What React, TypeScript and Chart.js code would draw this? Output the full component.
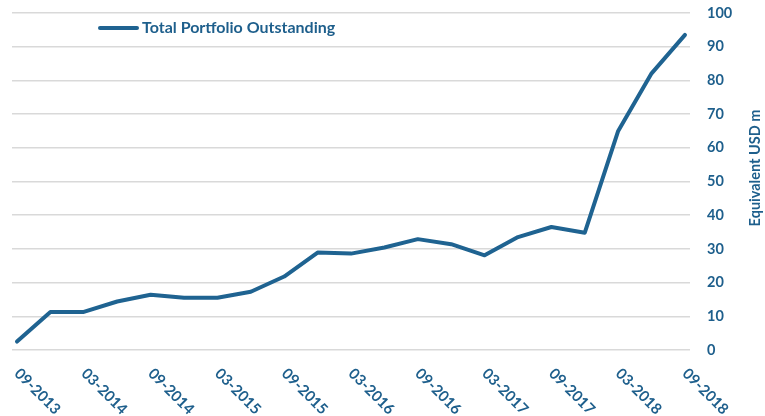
import React, { useEffect, useRef } from "react";
import { Chart, registerables } from "chart.js";

Chart.register(...registerables);

const categories = [
  "09-2013", "12-2013", "03-2014", "06-2014", "09-2014", "12-2014", "03-2015",
  "06-2015", "09-2015", "12-2015", "03-2016", "06-2016", "09-2016", "12-2016",
  "03-2017", "06-2017", "09-2017", "12-2017", "03-2018", "06-2018", "09-2018",
];
const outstanding = [
  2.5, 11.3, 11.3, 14.4, 16.4, 15.5, 15.5, 17.3, 21.8, 28.9, 28.6, 30.4,
  32.9, 31.4, 28.1, 33.5, 36.5, 34.8, 65.0, 82.1, 93.5,
];
const yTicks = [0, 10, 20, 30, 40, 50, 60, 70, 80, 90, 100];
const seriesName = "Total Portfolio Outstanding";
const yTitle = "Equivalent USD m";

const LINE = "#1f6391";
const TEXT = "#1e5f8c";
const FONT = "Lato, 'Open Sans', sans-serif";

export default function App() {
  const ref = useRef<HTMLCanvasElement | null>(null);

  useEffect(() => {
    document.body.style.margin = "0";
    const canvas = ref.current!;
    const textPlugin = {
      id: "customText",
      afterDraw(chart: any) {
        const ctx = chart.ctx as CanvasRenderingContext2D;
        const xs = chart.scales.x;
        const area = chart.chartArea;
        ctx.save();
        ctx.fillStyle = TEXT;
        ctx.font = `bold 15px ${FONT}`;
        // x labels, rotated 45deg down-right
        categories.forEach((c, i) => {
          if (i % 2 !== 0) return;
          const px = xs.getPixelForValue(i);
          ctx.save();
          ctx.translate(px, area.bottom + 21);
          ctx.rotate(Math.PI / 4);
          ctx.textAlign = "left";
          ctx.textBaseline = "middle";
          ctx.fillText(c, 0, 0);
          ctx.restore();
        });
        // legend
        ctx.strokeStyle = LINE;
        ctx.lineWidth = 4;
        ctx.lineCap = "round";
        ctx.beginPath();
        ctx.moveTo(100, 28);
        ctx.lineTo(137, 28);
        ctx.stroke();
        ctx.font = `bold 16px ${FONT}`;
        ctx.textAlign = "left";
        ctx.textBaseline = "middle";
        ctx.fillText(seriesName, 142, 28);
        // y title
        ctx.font = `bold 14.5px ${FONT}`;
        ctx.save();
        ctx.translate(755, 168);
        ctx.rotate(-Math.PI / 2);
        ctx.textAlign = "center";
        ctx.textBaseline = "middle";
        ctx.fillText(yTitle, 0, 0);
        ctx.restore();
        ctx.restore();
      },
    };

    const chart = new Chart(canvas, {
      type: "line",
      data: {
        datasets: [
          {
            label: seriesName,
            data: outstanding.map((v, i) => ({ x: i, y: v })),
            borderColor: LINE,
            backgroundColor: LINE,
            borderWidth: 4,
            pointRadius: 0,
            tension: 0,
            borderCapStyle: "round",
            borderJoinStyle: "round",
          },
        ],
      },
      options: {
        animation: false,
        responsive: false,
        layout: { padding: { left: 12, top: 13, bottom: 66, right: 0 } },
        plugins: { legend: { display: false }, tooltip: { enabled: false } },
        scales: {
          x: {
            type: "linear",
            min: -0.15,
            max: categories.length - 1 + 0.15,
            display: false,
          },
          y: {
            position: "right",
            min: yTicks[0],
            max: yTicks[yTicks.length - 1],
            afterBuildTicks: (axis: any) => {
              axis.ticks = yTicks.map((v) => ({ value: v }));
            },
            afterFit: (axis: any) => {
              axis.width = 75;
              axis.paddingTop = 0;
              axis.paddingBottom = 0;
            },
            border: { display: false },
            grid: { color: "#d9d9d9", lineWidth: 1.5, drawTicks: false },
            ticks: {
              padding: 17,
              color: TEXT,
              font: { family: FONT, size: 14.5, weight: "bold" },
            },
          },
        },
      },
      plugins: [textPlugin],
    });
    return () => chart.destroy();
  }, []);

  return (
    <div style={{ position: "absolute", left: 0, top: 0, width: 765, height: 416 }}>
      <canvas ref={ref} width={765} height={416} />
    </div>
  );
}
